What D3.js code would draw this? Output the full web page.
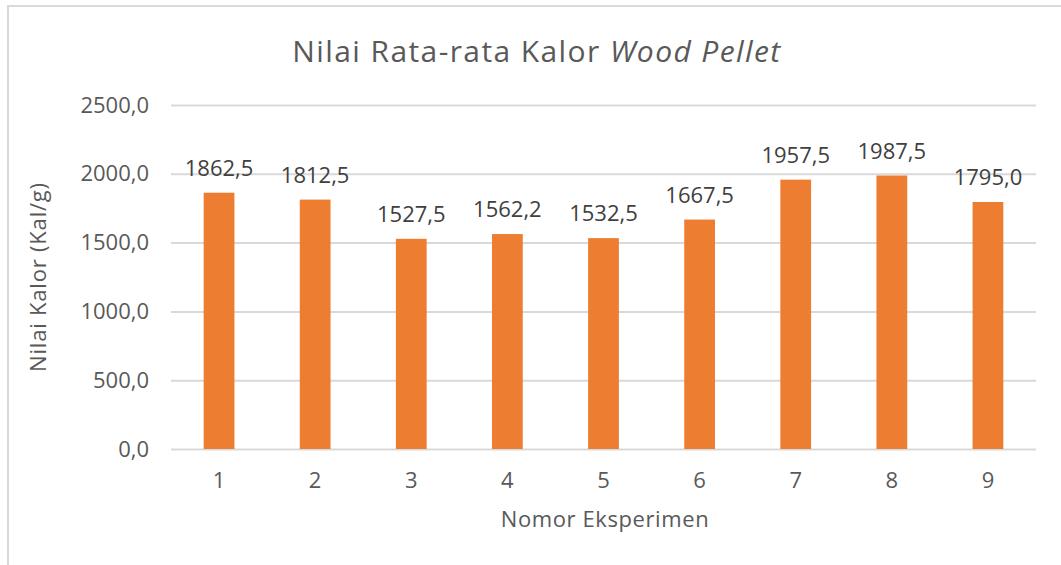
<!DOCTYPE html>
<html>
<head>
<meta charset="utf-8">
<script src="https://cdn.jsdelivr.net/npm/d3@7"></script>
<style>
  body { margin: 0; background: #fff; }
  text { font-family: "Open Sans", sans-serif; }
</style>
</head>
<body>
<svg id="chart" width="1061" height="565"></svg>
<script>
const categories = ["1", "2", "3", "4", "5", "6", "7", "8", "9"];
const values = [1862.5, 1812.5, 1527.5, 1562.2, 1532.5, 1667.5, 1957.5, 1987.5, 1795.0];
const yTicks = [0, 500, 1000, 1500, 2000, 2500];

const width = 1061;
const height = 565;
const plot = { left: 171, right: 1036, top: 105, bottom: 449 };

const barColor = "#ED7D31";
const gridColor = "#D9D9D9";
const tickColor = "#595959";
const labelColor = "#404040";

const locale = d3.formatLocale({ decimal: ",", thousands: ".", grouping: [3], currency: ["", ""] });
const fmt = locale.format(".1f");

const svg = d3.select("#chart");

// chart frame (cut off at right and bottom like the screenshot)
svg.append("rect")
  .attr("x", 8).attr("y", 6)
  .attr("width", 1100).attr("height", 600)
  .attr("fill", "#fff")
  .attr("stroke", gridColor)
  .attr("stroke-width", 2);

const x = d3.scaleBand()
  .domain(categories)
  .range([plot.left, plot.right])
  .paddingInner(0.68)
  .paddingOuter(0.34);

const y = d3.scaleLinear()
  .domain([0, 2500])
  .range([plot.bottom, plot.top]);

// gridlines + y labels
const yAxis = d3.axisLeft(y)
  .tickValues(yTicks)
  .tickFormat(fmt)
  .tickSize(-(plot.right - plot.left))
  .tickPadding(22);

const gy = svg.append("g")
  .attr("transform", `translate(${plot.left},0)`)
  .call(yAxis);
gy.select(".domain").remove();
gy.selectAll(".tick line").attr("stroke", gridColor).attr("stroke-width", 2);
gy.selectAll(".tick text")
  .attr("fill", tickColor)
  .attr("font-size", 22)
  .attr("font-family", "Open Sans, sans-serif");

// bars
svg.append("g").selectAll("rect")
  .data(values)
  .join("rect")
  .attr("x", (d, i) => x(categories[i]))
  .attr("width", x.bandwidth())
  .attr("y", d => y(d))
  .attr("height", d => y(0) - y(d))
  .attr("fill", barColor);

// data labels
svg.append("g").selectAll("text")
  .data(values)
  .join("text")
  .attr("x", (d, i) => x(categories[i]) + x.bandwidth() / 2)
  .attr("y", d => y(d) - 17)
  .attr("text-anchor", "middle")
  .attr("font-size", 22)
  .attr("fill", labelColor)
  .text(d => fmt(d));

// x axis labels
const xAxis = d3.axisBottom(x).tickSize(0).tickPadding(23);
const gx = svg.append("g")
  .attr("transform", `translate(0,${plot.bottom})`)
  .call(xAxis);
gx.select(".domain").remove();
gx.selectAll(".tick text")
  .attr("fill", tickColor)
  .attr("font-size", 22)
  .attr("font-family", "Open Sans, sans-serif");

// title
const title = svg.append("text")
  .attr("x", 537)
  .attr("y", 62)
  .attr("text-anchor", "middle")
  .attr("font-size", 30)
  .attr("letter-spacing", 1.4)
  .attr("fill", tickColor);
title.append("tspan").text("Nilai Rata-rata Kalor ");
title.append("tspan").attr("font-style", "italic").text("Wood Pellet");

// axis titles
svg.append("text")
  .attr("x", 605)
  .attr("y", 527)
  .attr("text-anchor", "middle")
  .attr("font-size", 22)
  .attr("letter-spacing", 0.6)
  .attr("fill", tickColor)
  .text("Nomor Eksperimen");

svg.append("text")
  .attr("transform", "translate(46,277) rotate(-90)")
  .attr("text-anchor", "middle")
  .attr("font-size", 22)
  .attr("letter-spacing", 0.8)
  .attr("fill", tickColor)
  .text("Nilai Kalor (Kal/g)");
</script>
</body>
</html>
